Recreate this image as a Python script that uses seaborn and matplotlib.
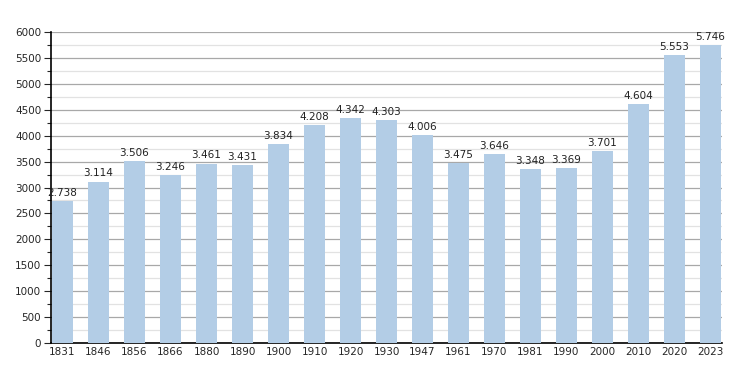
import matplotlib.pyplot as plt
import pandas as pd
import seaborn as sns
from matplotlib.ticker import MultipleLocator

years = ["1831", "1846", "1856", "1866", "1880", "1890", "1900", "1910", "1920",
         "1930", "1947", "1961", "1970", "1981", "1990", "2000", "2010", "2020", "2023"]
population = [2738, 3114, 3506, 3246, 3461, 3431, 3834, 4208, 4342,
              4303, 4006, 3475, 3646, 3348, 3369, 3701, 4604, 5553, 5746]


def fmt(v):
    return f"{v:,}".replace(",", ".")


def main():
    df = pd.DataFrame({"year": years, "pop": population})

    sns.set_style("white")
    plt.rcParams["font.family"] = ["DejaVu Sans"]

    fig = plt.figure(figsize=(7.5, 3.73), dpi=100)
    ax = fig.add_axes([51 / 750, 30 / 373, 671 / 750, 311 / 373])

    sns.barplot(data=df, x="year", y="pop", color="#b3cde6", saturation=1,
                width=0.6, linewidth=0, ax=ax, zorder=3)

    for i, v in enumerate(population):
        ax.text(i, v + 60, fmt(v), ha="center", va="bottom", fontsize=7.5,
                color="#222222", zorder=4)

    ax.set_ylim(0, 6000)
    ax.set_xlim(-0.32, 18.32)
    ax.yaxis.set_major_locator(MultipleLocator(500))
    ax.yaxis.set_minor_locator(MultipleLocator(250))
    ax.grid(axis="y", which="major", color="#a8a8a8", lw=0.9, zorder=0)
    ax.grid(axis="y", which="minor", color="#e2e2e2", lw=0.9, zorder=0)
    ax.set_axisbelow(True)

    for s in ["top", "right"]:
        ax.spines[s].set_visible(False)
    for s in ["left", "bottom"]:
        ax.spines[s].set_color("black")
        ax.spines[s].set_linewidth(1.2)

    ax.tick_params(axis="y", which="major", direction="out", length=5, width=0.8,
                   labelsize=7.5, left=True, pad=2)
    ax.tick_params(axis="y", which="minor", direction="out", length=3, width=0.8,
                   left=True)
    ax.tick_params(axis="x", length=0, labelsize=7.5, pad=3)
    ax.set_xlabel("")
    ax.set_ylabel("")

    fig.savefig("out.png", dpi=100)


if __name__ == "__main__":
    main()
